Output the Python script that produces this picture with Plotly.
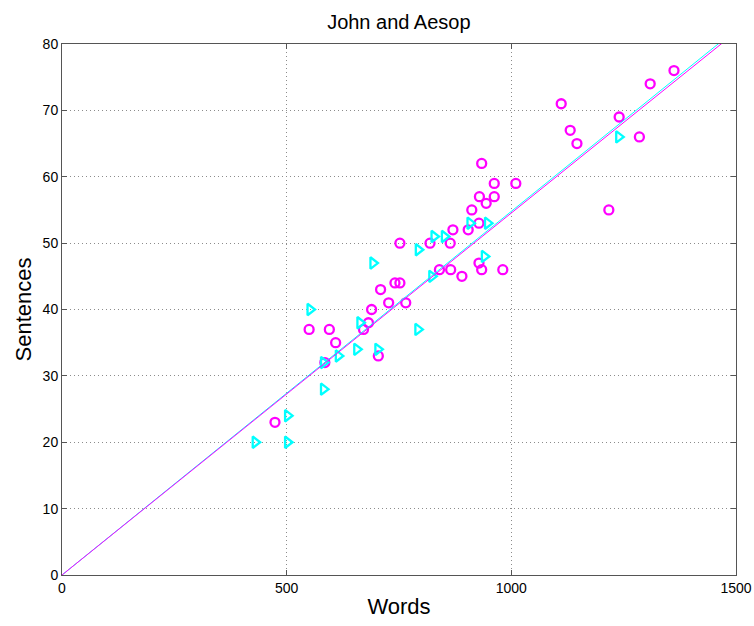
import plotly.graph_objects as go

# John (magenta circles)
john_words = [474, 585, 550, 595, 609, 671, 682, 689, 704, 709, 727, 741, 765, 752, 752,
              819, 840, 864, 865, 870, 890, 904, 912, 928, 928, 929, 934, 934, 944, 962,
              962, 981, 1010, 1111, 1131, 1146, 1217, 1240, 1285, 1309, 1362]
john_sent = [23, 32, 37, 37, 35, 37, 38, 40, 33, 43, 41, 44, 41, 50, 44,
             50, 46, 50, 46, 52, 45, 52, 55, 53, 47, 57, 62, 46, 56, 59,
             57, 46, 59, 71, 67, 65, 55, 69, 66, 74, 76]

# Aesop (cyan right triangles)
aesop_words = [430, 502, 502, 552, 582, 582, 615, 656, 663, 692, 703, 792, 793, 823,
               828, 851, 908, 940, 947, 1239]
aesop_sent = [20, 20, 24, 40, 28, 32, 33, 34, 38, 47, 34, 37, 49, 45,
              51, 51, 53, 48, 53, 66]

# Fitted slopes (sentences per word), lines through origin
john_slope = 0.05454
aesop_slope = 0.05479
line_x = [0, 1500]

x_ticks = [0, 500, 1000, 1500]
y_ticks = [0, 10, 20, 30, 40, 50, 60, 70, 80]

FONT = "Liberation Sans, Arial"

fig = go.Figure()
fig.add_trace(go.Scatter(
    x=john_words, y=john_sent, mode="markers",
    marker=dict(symbol="circle-open", size=9, color="#ff00ff", line=dict(width=2.3, color="#ff00ff")),
    showlegend=False, cliponaxis=False))
fig.add_trace(go.Scatter(
    x=aesop_words, y=aesop_sent, mode="markers",
    marker=dict(symbol="triangle-right-open", size=10, color="#00ffff", line=dict(width=2.3, color="#00ffff")),
    showlegend=False, cliponaxis=False))
fig.add_trace(go.Scatter(
    x=line_x, y=[aesop_slope * v for v in line_x], mode="lines",
    line=dict(color="#00ffff", width=1), showlegend=False))
fig.add_trace(go.Scatter(
    x=line_x, y=[john_slope * v for v in line_x], mode="lines",
    line=dict(color="#ff00ff", width=1), showlegend=False))

axis_common = dict(
    showgrid=True, gridcolor="#8c8c8c", griddash="1px,3px", gridwidth=1,
    showline=True, linecolor="#555555", linewidth=1, mirror="ticks",
    ticks="inside", ticklen=5, tickcolor="#555555",
    zeroline=False, automargin=False,
    tickfont=dict(family=FONT, size=14, color="black"),
)

fig.update_layout(
    width=754, height=626,
    margin=dict(l=62, r=18, t=44, b=51),
    paper_bgcolor="white", plot_bgcolor="white",
    title=dict(text="John and Aesop", x=0.529, xanchor="center", y=0.965, yanchor="middle",
               automargin=False,
               font=dict(family=FONT, size=20, color="black")),
    xaxis=dict(range=[0, 1500], tickvals=x_ticks,
               title=dict(text="Words", font=dict(family=FONT, size=22, color="black"), standoff=3),
               **axis_common),
    yaxis=dict(range=[0, 80], tickvals=y_ticks,
               title=dict(text="Sentences", font=dict(family=FONT, size=22, color="black"), standoff=4),
               **axis_common),
)

# Remove the default page margin so the figure fills the window exactly.
fig.write_html("out.html",
               config={"displayModeBar": False},
               post_script="document.body.style.margin='0';document.body.style.overflow='hidden';")
